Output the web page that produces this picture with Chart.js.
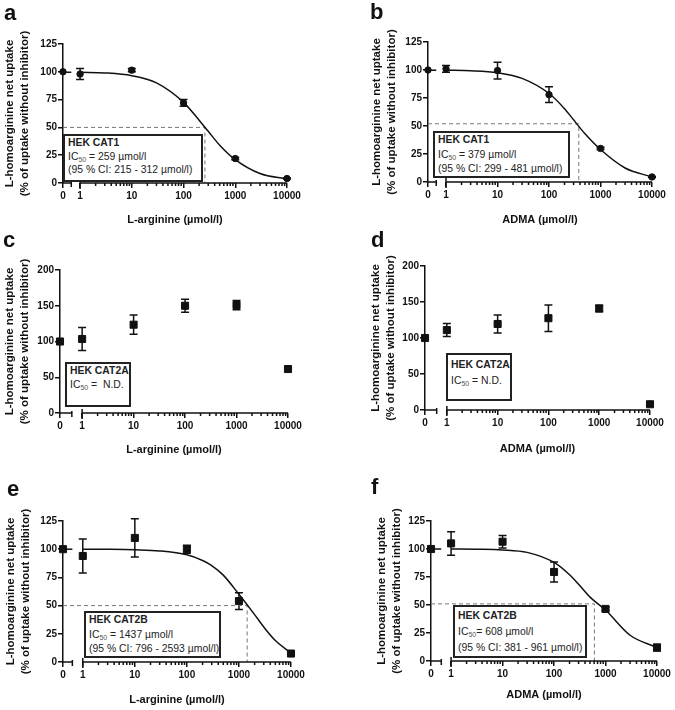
<!DOCTYPE html>
<html>
<head>
<meta charset="utf-8">
<script src="https://cdn.jsdelivr.net/npm/chart.js@4.4.1/dist/chart.umd.min.js"></script>
<style>
  body { margin: 0; background: #fff; }
  #fig { position: relative; width: 675px; height: 710px; overflow: hidden; font-family: "Liberation Sans", Arial, sans-serif; color: #111; }
  #fig canvas { position: absolute; }
  .lbl { position: absolute; font-weight: bold; font-size: 22px; line-height: 1; }
  .box { position: absolute; box-sizing: border-box; border: 2px solid #222; background: #fff; font-size: 10.4px; padding-left: 3px; white-space: nowrap; color: #222; }
  .sub { font-size: 7px; position: relative; top: 2px; line-height: 0; color: #555; }
</style>
</head>
<body>
<div id="fig">
  <div class="lbl" style="left:4px;top:2px">a</div>
  <div class="lbl" style="left:370px;top:1px">b</div>
  <div class="lbl" style="left:3px;top:229px">c</div>
  <div class="lbl" style="left:371px;top:229px">d</div>
  <div class="lbl" style="left:7px;top:478px">e</div>
  <div class="lbl" style="left:371px;top:476px">f</div>

  <div class="box" style="left:63px;top:134px;width:140px;height:48px;line-height:13.5px;padding-top:0px">
    <b>HEK CAT1</b><br>IC<span class="sub">50</span> = 259 µmol/l<br>(95 % CI: 215 - 312 µmol/l)</div>
  <div class="box" style="left:433px;top:131px;width:137px;height:47px;line-height:14.5px;padding-top:0px">
    <b>HEK CAT1</b><br>IC<span class="sub">50</span> = 379 µmol/l<br>(95 % CI: 299 - 481 µmol/l)</div>
  <div class="box" style="left:65px;top:362px;width:66px;height:45px;line-height:14px;padding-top:0px">
    <b>HEK CAT2A</b><br>IC<span class="sub">50</span> =&nbsp; N.D.</div>
  <div class="box" style="left:446px;top:353px;width:66px;height:48px;line-height:16px;padding-top:2px">
    <b>HEK CAT2A</b><br>IC<span class="sub">50</span> = N.D.</div>
  <div class="box" style="left:84px;top:611px;width:137px;height:47px;line-height:14.5px;padding-top:0px">
    <b>HEK CAT2B</b><br>IC<span class="sub">50</span> = 1437 µmol/l<br>(95 % CI: 796 - 2593 µmol/l)</div>
  <div class="box" style="left:453px;top:605px;width:134px;height:53px;line-height:16px;padding-top:1px">
    <b>HEK CAT2B</b><br>IC<span class="sub">50</span>= 608 µmol/l<br>(95 % CI: 381 - 961 µmol/l)</div>
</div>

<script>
// inhibitor concentrations (µmol/l), 0 = control without inhibitor
const conc = [0, 1, 10, 100, 1000, 10000];
const xTickLabels = ["0", "1", "10", "100", "1000", "10000"];
const minorMult = [2, 3, 4, 5, 6, 7, 8, 9];
const yTitle = ["L-homoarginine net uptake", "(% of uptake without inhibitor)"];

// a: L-arginine, HEK CAT1
const aMean = [100, 98, 101.5, 72, 22, 4];
const aSd = [0, 5, 1.5, 3, 1, 0.5];
// b: ADMA, HEK CAT1
const bMean = [100, 101, 99.5, 78, 30, 4.5];
const bSd = [0, 3, 7.5, 7, 1, 0.5];
// c: L-arginine, HEK CAT2A
const cMean = [100, 103.5, 123.5, 150, 151, 61.5];
const cSd = [0, 16, 13.5, 9, 6.5, 1];
// d: ADMA, HEK CAT2A
const dMean = [100, 111, 119.5, 127.5, 141, 8];
const dSd = [0, 9, 12.5, 18.5, 4.5, 1];
// e: L-arginine, HEK CAT2B
const eMean = [100, 94, 110, 100, 54, 7.5];
const eSd = [0, 15, 17, 3.5, 7.5, 1];
// f: ADMA, HEK CAT2B
const fMean = [100, 105, 106.5, 79.5, 46.5, 12];
const fSd = [0, 10.5, 5.5, 9, 1.5, 3];

// fitted curves
const curveConc = [1, 3, 10, 30, 100, 200, 300, 500, 1000, 3000, 10000];
const aCurve = [99.6, 99, 96.5, 90, 72.5, 56.5, 46.5, 34, 21, 8.5, 3.5];
const bCurve = [99.8, 99.3, 97.5, 92.5, 79, 65.5, 55.5, 43, 29, 12.5, 4.5];
const eCurveConc = [1, 3, 10, 30, 100, 200, 300, 500, 1000, 2000, 3000, 5000, 10000];
const eCurve = [100, 99.9, 99.5, 98.5, 95, 90, 85.5, 77, 60, 42, 31, 19, 8];
const fCurve = [100, 99.8, 99.2, 97, 88, 77, 68.5, 57, 45.5, 23, 12];

// IC50 values from the boxes, and level of the dashed guide
const ic50 = { a: 259, b: 379, e: 1437, f: 608 };
const icLevel = { a: 50, b: 52, e: 50, f: 51 };

Chart.defaults.font.family = '"Liberation Sans", Arial, sans-serif';
Chart.defaults.color = "#111";

const INK = "#111";

const brokenAxis = {
  id: "brokenAxis",
  beforeDatasetsDraw(chart) {
    const ctx = chart.ctx;
    const ys = chart.scales.y;
    chart.data.datasets.forEach((ds, i) => {
      if (!ds.errors) return;
      const meta = chart.getDatasetMeta(i);
      ctx.save();
      ctx.strokeStyle = INK;
      ctx.lineWidth = 1.5;
      meta.data.forEach((pt, j) => {
        const e = ds.errors[j];
        if (!e) return;
        const v = ds.data[j].y;
        const top = ys.getPixelForValue(v + e);
        const bot = ys.getPixelForValue(v - e);
        ctx.beginPath();
        ctx.moveTo(pt.x, top); ctx.lineTo(pt.x, bot);
        ctx.moveTo(pt.x - 4, top); ctx.lineTo(pt.x + 4, top);
        ctx.moveTo(pt.x - 4, bot); ctx.lineTo(pt.x + 4, bot);
        ctx.stroke();
      });
      ctx.restore();
    });
  },
  afterDraw(chart, args, o) {
    const ctx = chart.ctx;
    const xs = chart.scales.x;
    const b = chart.chartArea.bottom;
    const px = v => xs.getPixelForValue(v);
    ctx.save();
    ctx.strokeStyle = INK;
    ctx.lineWidth = 1.5;
    ctx.beginPath();
    ctx.moveTo(px(o.min), b); ctx.lineTo(px(o.brk), b);
    ctx.moveTo(px(o.brk), b - 2); ctx.lineTo(px(o.brk), b + 4);
    ctx.moveTo(px(0), b - 4); ctx.lineTo(px(0), b + 6);
    ctx.moveTo(px(0), b); ctx.lineTo(px(4), b);
    for (let d = 0; d < 4; d++) {
      minorMult.forEach(m => {
        const x = px(d + Math.log10(m));
        ctx.moveTo(x, b); ctx.lineTo(x, b + 3);
      });
    }
    ctx.stroke();
    ctx.restore();
  }
};

const panels = [
  { id: "a", canvas: [0, 0, 337, 232], area: [63, 44, 287, 183], yTitleX: 10, xTitleY: 220, min: -0.33, brk: -0.17,
    yMax: 125, yStep: 25, marker: "circle", mean: aMean, sd: aSd, cx: curveConc, cy: aCurve, xTitle: "L-arginine (µmol/l)" },
  { id: "b", canvas: [337, 0, 338, 232], area: [428, 42, 652, 182], yTitleX: 377, xTitleY: 220, min: -0.35, brk: -0.19,
    yMax: 125, yStep: 25, marker: "circle", mean: bMean, sd: bSd, cx: curveConc, cy: bCurve, xTitle: "ADMA (µmol/l)" },
  { id: "c", canvas: [0, 232, 337, 233], area: [60, 270, 288, 413], yTitleX: 10, xTitleY: 450, min: -0.43, brk: -0.2,
    yMax: 200, yStep: 50, marker: "rect", mean: cMean, sd: cSd, xTitle: "L-arginine (µmol/l)" },
  { id: "d", canvas: [337, 232, 338, 233], area: [425, 266, 650, 410], yTitleX: 376, xTitleY: 449, min: -0.43, brk: -0.2,
    yMax: 200, yStep: 50, marker: "rect", mean: dMean, sd: dSd, xTitle: "ADMA (µmol/l)" },
  { id: "e", canvas: [0, 465, 337, 245], area: [63, 521, 291, 662], yTitleX: 11, xTitleY: 700, min: -0.38, brk: -0.2,
    yMax: 125, yStep: 25, marker: "rect", mean: eMean, sd: eSd, cx: eCurveConc, cy: eCurve, xTitle: "L-arginine (µmol/l)" },
  { id: "f", canvas: [337, 465, 338, 245], area: [431, 521, 657, 661], yTitleX: 382, xTitleY: 695, min: -0.39, brk: -0.19,
    yMax: 125, yStep: 25, marker: "rect", mean: fMean, sd: fSd, cx: curveConc, cy: fCurve, xTitle: "ADMA (µmol/l)" }
];

const fig = document.getElementById("fig");

panels.forEach(p => {
  const [cx, cy, cw, ch] = p.canvas;
  const [L, T, R, B] = p.area;
  const lhY = 11.5 * 1.25, lhX = 11 * 1.25;
  const padL = p.yTitleX - cx - lhY / 2;
  const yw = L - cx - padL;
  const xh = p.xTitleY - B + lhX / 2;
  const padB = cy + ch - B - xh;

  const canvas = document.createElement("canvas");
  canvas.width = cw; canvas.height = ch;
  canvas.style.left = cx + "px"; canvas.style.top = cy + "px";
  fig.insertBefore(canvas, fig.firstChild);

  const xPos = c => (c === 0 ? p.min : Math.log10(c));

  const datasets = [{
    label: "mean",
    data: conc.map((c, i) => ({ x: xPos(c), y: p.mean[i] })),
    errors: p.sd,
    showLine: false,
    pointStyle: p.marker,
    pointRadius: p.marker === "rect" ? 5 : 3.2,
    pointBackgroundColor: INK,
    pointBorderColor: INK,
    borderWidth: 1,
    clip: false
  }];

  if (p.cx) {
    datasets.push({
      label: "fit",
      data: p.cx.map((c, i) => ({ x: xPos(c), y: p.cy[i] })),
      borderColor: INK, borderWidth: 1.5, pointRadius: 0,
      cubicInterpolationMode: "monotone", clip: false
    });
    datasets.push({
      label: "fit control",
      data: [{ x: p.min, y: p.cy[0] }, { x: p.brk, y: p.cy[0] }],
      borderColor: INK, borderWidth: 1.5, pointRadius: 0, clip: false
    });
    const icx = Math.log10(ic50[p.id]);
    datasets.push({
      label: "IC50",
      data: [{ x: p.min, y: icLevel[p.id] }, { x: icx, y: icLevel[p.id] }, { x: icx, y: 0 }],
      borderColor: "#777", borderWidth: 1, borderDash: [4, 3], pointRadius: 0, tension: 0
    });
  }

  new Chart(canvas, {
    type: "line",
    data: { datasets },
    plugins: [brokenAxis],
    options: {
      responsive: false,
      animation: false,
      devicePixelRatio: 1,
      layout: { autoPadding: false, padding: { left: padL, top: T - cy, right: cx + cw - R, bottom: padB } },
      plugins: {
        legend: { display: false },
        tooltip: { enabled: false },
        brokenAxis: { min: p.min, brk: p.brk }
      },
      scales: {
        x: {
          type: "linear",
          min: p.min,
          max: 4,
          afterBuildTicks: s => { s.ticks = [p.min, 0, 1, 2, 3, 4].map(v => ({ value: v })); },
          afterFit: s => { s.height = xh; },
          ticks: {
            autoSkip: false, maxRotation: 0, padding: 2, color: INK,
            font: { size: 10, weight: "bold" },
            callback: (v, i) => xTickLabels[i]
          },
          grid: { drawOnChartArea: false, tickLength: 5, color: INK, lineWidth: 1.5 },
          border: { display: false },
          title: { display: true, text: p.xTitle, color: INK, padding: 0,
                   font: { size: 11, weight: "bold", lineHeight: 1.25 } }
        },
        y: {
          min: 0,
          max: p.yMax,
          afterFit: s => { s.width = yw; },
          ticks: { stepSize: p.yStep, padding: 1, color: INK, font: { size: 10, weight: "bold" } },
          grid: { drawOnChartArea: false, tickLength: 5, color: INK, lineWidth: 1.5 },
          border: { color: INK, width: 1.5 },
          title: { display: true, text: yTitle, color: INK, padding: 0,
                   font: { size: 11.5, weight: "bold", lineHeight: 1.25 } }
        }
      }
    }
  });
});
</script>
</body>
</html>
